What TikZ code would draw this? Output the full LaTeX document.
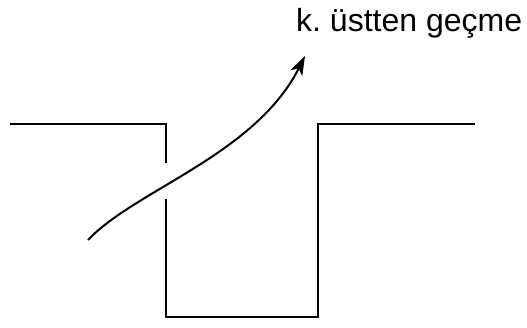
\documentclass[tikz,border=0pt]{standalone}
\usepackage{fontspec}
\setmainfont{Liberation Sans}
\usetikzlibrary{arrows.meta}

\begin{document}
\begin{tikzpicture}[x=1pt,y=-1pt,
    wall/.style={black,line width=2pt},
    path/.style={black,line width=2pt,-{Stealth[length=19pt,width=13pt,inset=5pt]}}]
        \useasboundingbox (0,0) rectangle (527,327);
        %ground and ditch
        \coordinate (a) at (10,124);
        \coordinate (b) at (166,124);
        \coordinate (c) at (166,163);
        \coordinate (d) at (166,199);
        \coordinate (e) at (166,317);
        \coordinate (f) at (318,317);
        \coordinate (g) at (318,124);
        \coordinate (h) at (475,124);
        \draw[wall] (a)--(b)--(c) (d)--(e)--(f)--(g)--(h);

        %jump over
        \node[anchor=base west,inner sep=0pt,font=\fontsize{32}{38}\selectfont] (lbl) at (296,31) {k.\ üstten geçme};
        \coordinate (s) at (88,240);
        \coordinate (t) at (305,56);
        \draw[path] (s) .. controls (135,190) and (255,155) .. (t);
\end{tikzpicture}
\end{document}
